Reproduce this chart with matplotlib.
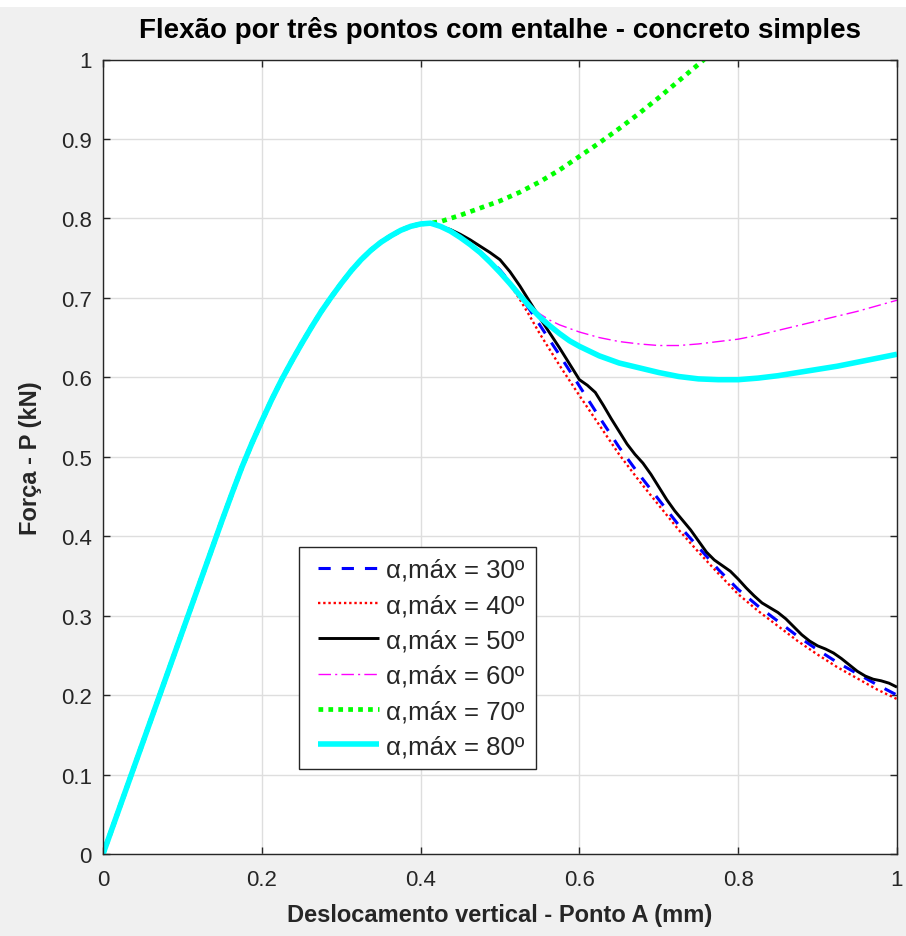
import matplotlib
matplotlib.use("Agg")
import matplotlib.pyplot as plt
from matplotlib.patches import Rectangle
from matplotlib.lines import Line2D
from matplotlib.legend_handler import HandlerLine2D

# ---------------- data ----------------
# shared loading branch (all six curves)
x_rise = [0.0, 0.05, 0.1, 0.15, 0.1625, 0.175, 0.1875, 0.2, 0.2125, 0.225, 0.2375,
          0.25, 0.2625, 0.275, 0.2875, 0.3, 0.3125, 0.325, 0.3375, 0.35, 0.3625,
          0.375, 0.3875, 0.4, 0.4125]
y_rise = [0.0, 0.14, 0.28, 0.42, 0.454, 0.487, 0.517, 0.545, 0.572, 0.597, 0.620,
          0.642, 0.663, 0.683, 0.701, 0.718, 0.734, 0.748, 0.760, 0.770, 0.778,
          0.785, 0.790, 0.793, 0.794]

# post-peak branches
x_30 = [0.425, 0.4375, 0.45, 0.4625, 0.475, 0.4875, 0.5, 0.5125, 0.525, 0.5375, 0.55,
        0.575, 0.6, 0.625, 0.65, 0.675, 0.7, 0.725, 0.75, 0.775, 0.8, 0.825, 0.85,
        0.875, 0.9, 0.925, 0.95, 0.975, 1.0]
y_30 = [0.790, 0.785, 0.777, 0.768, 0.758, 0.747, 0.735, 0.720, 0.703, 0.685, 0.666,
        0.628, 0.589, 0.550, 0.512, 0.478, 0.446, 0.414, 0.386, 0.358, 0.333, 0.312, 0.293,
        0.274, 0.257, 0.241, 0.227, 0.213, 0.200]

x_40 = [0.425, 0.4375, 0.45, 0.4625, 0.475, 0.4875, 0.5, 0.5125, 0.525, 0.5375, 0.55,
        0.575, 0.6, 0.625, 0.65, 0.675, 0.7, 0.725, 0.75, 0.775, 0.8, 0.825, 0.85,
        0.875, 0.9, 0.925, 0.95, 0.975, 1.0]
y_40 = [0.789, 0.784, 0.776, 0.767, 0.757, 0.746, 0.733, 0.717, 0.698, 0.677, 0.655,
        0.615, 0.577, 0.540, 0.503, 0.470, 0.439, 0.408, 0.380, 0.353, 0.327, 0.306, 0.287,
        0.268, 0.251, 0.235, 0.221, 0.207, 0.195]

x_50 = [0.425, 0.4375, 0.45, 0.4625, 0.475, 0.4875, 0.5, 0.5125, 0.525, 0.5375, 0.55,
        0.5625, 0.575, 0.5875, 0.6, 0.61, 0.62, 0.63, 0.64, 0.65, 0.66, 0.67, 0.68,
        0.69, 0.7, 0.71, 0.72, 0.73, 0.74, 0.75, 0.76, 0.77, 0.78, 0.79, 0.8, 0.81,
        0.82, 0.83, 0.84, 0.85, 0.86, 0.87, 0.88, 0.89, 0.9, 0.91, 0.92, 0.93, 0.94,
        0.95, 0.96, 0.97, 0.98, 0.99, 1.0]
y_50 = [0.790, 0.786, 0.780, 0.773, 0.765, 0.757, 0.748, 0.733, 0.715, 0.695, 0.675,
        0.656, 0.637, 0.617, 0.597, 0.590, 0.581, 0.565, 0.548, 0.532, 0.516, 0.503, 0.492,
        0.478, 0.462, 0.446, 0.432, 0.420, 0.408, 0.394, 0.380, 0.370, 0.363, 0.356, 0.346, 0.335,
        0.325, 0.316, 0.310, 0.304, 0.296, 0.286, 0.276, 0.268, 0.262, 0.258, 0.253, 0.246, 0.238,
        0.230, 0.224, 0.220, 0.218, 0.215, 0.210]

x_60 = [0.425, 0.4375, 0.45, 0.4625, 0.475, 0.4875, 0.5, 0.5125, 0.525, 0.5375, 0.55,
        0.5625, 0.575, 0.6, 0.625, 0.65, 0.675, 0.7, 0.725, 0.75, 0.775, 0.8, 0.825,
        0.85, 0.875, 0.9, 0.925, 0.95, 0.975, 1.0]
y_60 = [0.790, 0.785, 0.777, 0.768, 0.758, 0.747, 0.735, 0.720, 0.704, 0.690, 0.680,
        0.672, 0.666, 0.657, 0.650, 0.645, 0.642, 0.640, 0.640, 0.642, 0.645, 0.648, 0.653,
        0.659, 0.665, 0.671, 0.677, 0.683, 0.690, 0.697]

x_70 = [0.425, 0.4375, 0.45, 0.475, 0.5, 0.525, 0.55, 0.575, 0.6, 0.625, 0.65, 0.675,
        0.7, 0.725, 0.75, 0.757]
y_70 = [0.796, 0.800, 0.804, 0.813, 0.822, 0.833, 0.846, 0.861, 0.878, 0.895, 0.913, 0.932,
        0.952, 0.973, 0.994, 1.0]

x_80 = [0.425, 0.4375, 0.45, 0.4625, 0.475, 0.4875, 0.5, 0.5125, 0.525, 0.5375, 0.55,
        0.5625, 0.575, 0.5875, 0.6, 0.625, 0.65, 0.675, 0.7, 0.725, 0.75, 0.775, 0.8,
        0.825, 0.85, 0.875, 0.9, 0.925, 0.95, 0.975, 1.0]
y_80 = [0.790, 0.784, 0.776, 0.767, 0.757, 0.745, 0.732, 0.718, 0.703, 0.689, 0.676,
        0.665, 0.655, 0.646, 0.639, 0.627, 0.618, 0.612, 0.606, 0.601, 0.598, 0.597, 0.597,
        0.599, 0.602, 0.606, 0.610, 0.614, 0.619, 0.624, 0.629]

labels = ["α,máx = 30º", "α,máx = 40º", "α,máx = 50º",
          "α,máx = 60º", "α,máx = 70º", "α,máx = 80º"]
xticks = [0, 0.2, 0.4, 0.6, 0.8, 1.0]
xticklabels = ["0", "0.2", "0.4", "0.6", "0.8", "1"]
yticks = [0, 0.1, 0.2, 0.3, 0.4, 0.5, 0.6, 0.7, 0.8, 0.9, 1.0]
yticklabels = ["0", "0.1", "0.2", "0.3", "0.4", "0.5", "0.6", "0.7", "0.8", "0.9", "1"]
title = "Flexão por três pontos com entalhe - concreto simples"
xlabel = "Deslocamento vertical - Ponto A (mm)"
ylabel = "Força - P (kN)"

# ---------------- figure ----------------
plt.rcParams['font.family'] = ['Liberation Sans', 'DejaVu Sans']
W, H = 906, 937
fig = plt.figure(figsize=(W / 100, H / 100), dpi=100, facecolor='#f0f0f0')
fig.patches.append(Rectangle((0, 1 - 8 / H), 1, 8 / H, transform=fig.transFigure,
                             facecolor='white', edgecolor='none', zorder=0))

L, R, B, T = 103, 897, 855, 60.5
ax = fig.add_axes([L / W, (H - B) / H, (R - L) / W, (B - T) / H])
ax.set_facecolor('white')

series = [
    (x_30, y_30, dict(color=(0, 0, 1), lw=2.2, dashes=(4.0, 3.6))),
    (x_40, y_40, dict(color=(1, 0, 0), lw=1.7, dashes=(1, 1.2))),
    (x_50, y_50, dict(color='black', lw=2.1, ls='-')),
    (x_60, y_60, dict(color=(1, 0, 1), lw=1.0, dashes=(9, 3, 1.5, 3))),
    (x_70, y_70, dict(color=(0, 1, 0), lw=3.4, dashes=(1, 1.1))),
    (x_80, y_80, dict(color=(0, 1, 1), lw=4.0, ls='-')),
]
for (xs, ys, st), lab in zip(series, labels):
    ax.plot(x_rise + xs, y_rise + ys, label=lab, solid_capstyle='butt',
            dash_capstyle='butt', solid_joinstyle='round', **st)

ax.set_xlim(0, 1)
ax.set_ylim(0, 1)
ax.set_xticks(xticks)
ax.set_xticklabels(xticklabels)
ax.set_yticks(yticks)
ax.set_yticklabels(yticklabels)
ax.grid(True, color='#dedede', lw=1.0)
ax.set_axisbelow(True)
for s in ax.spines.values():
    s.set_color('#262626')
    s.set_linewidth(1.0)
ax.tick_params(axis='both', direction='in', length=5, width=1.0, color='#262626',
               labelcolor='#262626', labelsize=16, top=True, right=True)
ax.tick_params(axis='x', pad=11)
ax.tick_params(axis='y', pad=8)

ax.set_title(title, fontsize=20, fontweight='bold', color='black', y=1.038, va='center', pad=0)
ax.set_xlabel(xlabel, fontsize=17, fontweight='bold', color='#262626', va='center')
ax.xaxis.set_label_coords(0.5, (B - 916) / (B - T))
ax.set_ylabel(ylabel, fontsize=17, fontweight='bold', color='#262626', va='center')
ax.yaxis.set_label_coords((31 - L) / (R - L), 0.5)

leg = ax.legend(loc='upper left', bbox_to_anchor=((299 - L) / (R - L), (B - 548) / (B - T)),
                prop={'size': 18.5}, frameon=True, fancybox=False, framealpha=1,
                edgecolor='#262626', handlelength=2.68, handletextpad=0.3,
                labelspacing=0.44, borderpad=0.42, borderaxespad=0,
                handler_map={Line2D: HandlerLine2D(xpad=0.33)})
leg.get_frame().set_linewidth(1.0)
for t in leg.get_texts():
    t.set_color('#262626')

fig.savefig('out.png', dpi=100, facecolor=fig.get_facecolor())
